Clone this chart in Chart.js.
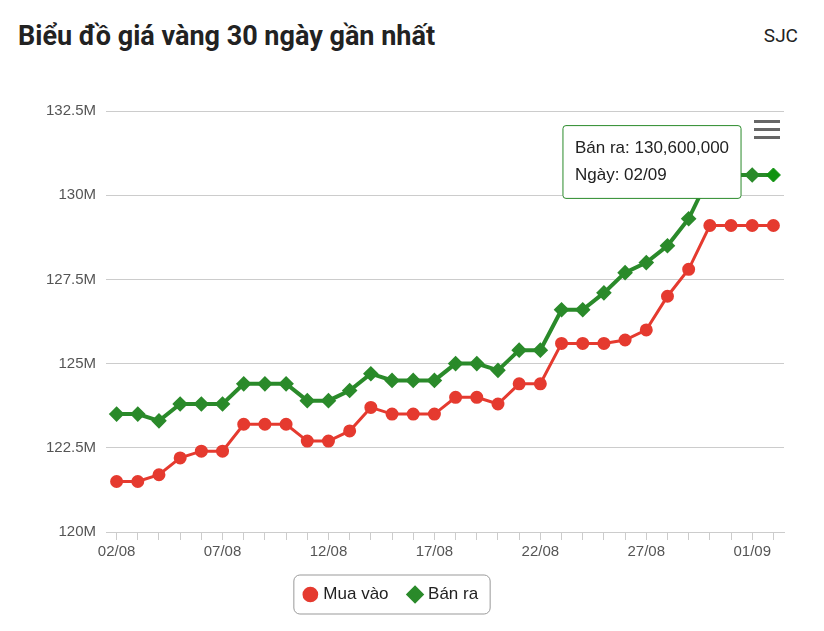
<!DOCTYPE html>
<html><head><meta charset="utf-8">
<script src="https://cdn.jsdelivr.net/npm/chart.js@4"></script>
<style>
body{margin:0;background:#fff;font-family:Roboto,"Noto Sans",sans-serif;width:824px;height:631px;overflow:hidden;position:relative}
h1{position:absolute;left:18px;top:20px;margin:0;font-size:27px;font-weight:700;color:#222}
.sjc{position:absolute;right:26px;top:24px;font-size:19px;color:#222}
.menu{position:absolute;left:754px;top:120px;width:26px}
.menu div{height:3px;background:#666;margin-bottom:5px}
#wrap{position:absolute;left:0;top:80px;width:824px;height:551px}
</style></head><body>
<h1>Biểu đồ giá vàng 30 ngày gần nhất</h1>
<div class="sjc">SJC</div>
<div id="wrap"><canvas id="grafico"></canvas></div>
<div class="menu"><div></div><div></div><div></div></div>
<script>
const ngay = ["02/08","03/08","04/08","05/08","06/08","07/08","08/08","09/08","10/08","11/08","12/08","13/08","14/08","15/08","16/08","17/08","18/08","19/08","20/08","21/08","22/08","23/08","24/08","25/08","26/08","27/08","28/08","29/08","30/08","31/08","01/09","02/09"];
const muaVao = [121.5,121.5,121.7,122.2,122.4,122.4,123.2,123.2,123.2,122.7,122.7,123.0,123.7,123.5,123.5,123.5,124.0,124.0,123.8,124.4,124.4,125.6,125.6,125.6,125.7,126.0,127.0,127.8,129.1,129.1,129.1,129.1].map(v => v * 1e6);
const banRa = [123.5,123.5,123.3,123.8,123.8,123.8,124.4,124.4,124.4,123.9,123.9,124.2,124.7,124.5,124.5,124.5,125.0,125.0,124.8,125.4,125.4,126.6,126.6,127.1,127.7,128.0,128.5,129.3,130.6,130.6,130.6,130.6].map(v => v * 1e6);
const nhanTruc = ["120M","122.5M","125M","127.5M","130M","132.5M"];

Chart.Tooltip.positioners.hop = () => ({ x: 652, y: 82 });

const khungLegend = {
  id: "khungLegend",
  afterDraw(chart) {
    const l = chart.legend, c = chart.ctx;
    if (!l || !l.legendHitBoxes.length) return;
    const b = l.legendHitBoxes;
    const x0 = b[0].left - 12, x1 = b[b.length - 1].left + b[b.length - 1].width + 12;
    const y0 = b[0].top - 11, h = b[0].height + 22;
    c.save(); c.strokeStyle = "#999"; c.lineWidth = 1;
    c.beginPath(); c.roundRect(x0, y0, x1 - x0, h, 6); c.stroke(); c.restore();
  }
};

const ctx = document.getElementById("grafico").getContext("2d");
window.miGrafico = new Chart(ctx, {
  type: "line",
  data: {
    labels: ngay,
    datasets: [
      { label: "Mua vào", data: muaVao, borderColor: "#e53a2f", backgroundColor: "#e53a2f", borderWidth: 3, pointRadius: 5, pointHoverRadius: 5, pointStyle: "circle" },
      { label: "Bán ra", data: banRa, borderColor: "#2a8a2a", backgroundColor: "#2a8a2a", borderWidth: 4, pointRadius: 5, pointHoverRadius: 7, pointStyle: "rectRot" }
    ]
  },
  options: {
    responsive: true, maintainAspectRatio: false, animation: false,
    layout: { padding: { left: 0, right: 40, top: 31, bottom: 18 } },
    scales: {
      x: {
        offset: true,
        grid: { drawOnChartArea: false, tickLength: 8, color: "#ccc", offset: false },
        border: { color: "#ccc" },
        ticks: { autoSkip: false, maxRotation: 0, color: "#555", font: { size: 15 },
          callback: (v, i) => i % 5 === 0 ? ngay[i] : "" }
      },
      y: {
        min: 120e6, max: 132.5e6,
        afterFit: s => { s.width = 106; },
        grid: { color: "#ccc", drawTicks: false },
        border: { display: false },
        ticks: { stepSize: 2.5e6, padding: 10, color: "#555", font: { size: 15 },
          callback: (v, i) => nhanTruc[i] }
      }
    },
    plugins: {
      legend: { position: "bottom", labels: { usePointStyle: true, boxHeight: 9, boxWidth: 9, padding: 22, color: "#222", font: { size: 17 } } },
      tooltip: {
        position: "hop", xAlign: "center", yAlign: "center", caretSize: 0,
        backgroundColor: "#fff", borderColor: "#2a8a2a", borderWidth: 1, cornerRadius: 3,
        titleColor: "#222", bodyColor: "#222", displayColors: false, padding: { x: 12, y: 13 },
        bodyFont: { size: 17 }, titleFont: { size: 17 }, bodySpacing: 6,
        callbacks: {
          title: () => "",
          label: it => "Bán ra: " + it.raw.toLocaleString("en-US"),
          afterLabel: it => "Ngày: " + ngay[it.dataIndex]
        }
      }
    }
  },
  plugins: [khungLegend]
});
const ult = banRa.length - 1;
miGrafico.setActiveElements([{ datasetIndex: 1, index: ult }]);
miGrafico.tooltip.setActiveElements([{ datasetIndex: 1, index: ult }], { x: 0, y: 0 });
miGrafico.update();
</script>
</body></html>
